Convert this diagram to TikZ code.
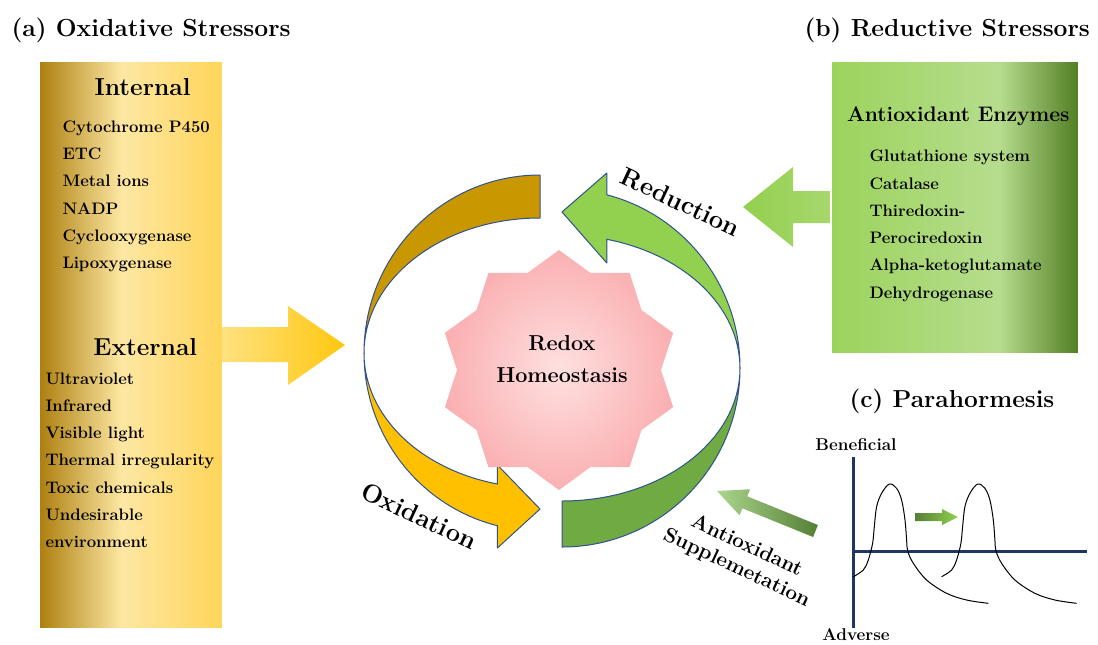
\documentclass[tikz,border=0pt]{standalone}
\usepackage{fontspec}
\usetikzlibrary{calc}

\definecolor{goldA}{RGB}{172,126,14}
\definecolor{goldB}{RGB}{253,231,163}
\definecolor{goldC}{RGB}{255,213,90}
\definecolor{greenA}{RGB}{156,211,92}
\definecolor{greenB}{RGB}{182,221,142}
\definecolor{greenC}{RGB}{82,126,36}
\definecolor{yellowArrowA}{RGB}{255,226,128}
\definecolor{yellowArrowB}{RGB}{255,199,14}
\definecolor{greenArrowA}{RGB}{146,208,80}
\definecolor{greenArrowB}{RGB}{168,215,108}
\definecolor{suppLight}{RGB}{172,212,142}
\definecolor{suppDark}{RGB}{84,128,52}
\definecolor{starIn}{RGB}{255,224,224}
\definecolor{starOut}{RGB}{250,176,178}
\definecolor{axisNavy}{RGB}{32,54,100}

\pgfdeclarehorizontalshading{goldpanel}{100bp}{color(0bp)=(goldA); color(25bp)=(goldA); color(47.5bp)=(goldB); color(75bp)=(goldC); color(100bp)=(goldC)}
\pgfdeclarehorizontalshading{greenpanel}{100bp}{color(0bp)=(greenA); color(25bp)=(greenA); color(59bp)=(greenB); color(75bp)=(greenC); color(100bp)=(greenC)}

\tikzset{every picture/.style={line width=0.75pt}}
\tikzset{
  titletext/.style={anchor=base west, inner sep=0.75pt, font=\fontsize{18.5}{22}\selectfont\bfseries},
  headtext/.style={anchor=base, inner sep=0.75pt, font=\fontsize{18.4}{22}\selectfont\bfseries},
  itemtext/.style={anchor=base west, inner sep=0.75pt, font=\fontsize{12.5}{15}\selectfont\bfseries},
  turnedtext/.style={rotate=-25, inner sep=0.75pt, align=center, font=\fontsize{19.1}{23}\selectfont\bfseries},
  axistext/.style={anchor=base, inner sep=0.75pt, font=\fontsize{12.8}{15}\selectfont\bfseries},
  band/.style={draw={rgb, 255:red, 47; green, 82; blue, 143 }, line join=round}
}

\begin{document}
\begin{tikzpicture}[x=0.75pt,y=0.75pt,yscale=-1,xscale=1]
\useasboundingbox (0,0) rectangle (1098,644);

%Shape: Rectangle [oxidative panel]
\shadedraw [draw=white, shading=goldpanel] (39,61) rectangle (222,628) ;
%Shape: Right Arrow
\shade [left color=yellowArrowA, right color=yellowArrowB] (222,327) -- (288,327) -- (288,306) -- (345,345) -- (288,385) -- (288,362) -- (222,362) -- cycle ;

%Shape: Rectangle [reductive panel]
\shadedraw [draw=white, shading=greenpanel] (831,61) rectangle (1078,353) ;
%Shape: Left Arrow
\shade [left color=greenArrowA, right color=greenArrowB] (830,191) -- (793,191) -- (793,167) -- (743,207) -- (793,247) -- (793,223) -- (830,223) -- cycle ;

%Curved Arrow: oxidation, upper part
\draw [band, fill={rgb, 255:red, 201; green, 151; blue, 0 }] (540,175) arc [start angle=-90, end angle=-180, x radius=176, y radius=178] arc [start angle=180, end angle=270, x radius=176, y radius=135] -- cycle ;
%Curved Arrow: oxidation, lower part with head
\draw [band, fill={rgb, 255:red, 255; green, 192; blue, 0 }] (364,353) arc [start angle=180, end angle=104, x radius=176, y radius=178] -- (497.4,548) -- (540,509) -- (497.4,465) -- (497.4,484) arc [start angle=104, end angle=180, x radius=176, y radius=135] -- cycle ;
%Curved Arrow: reduction, upper part with head
\draw [band, fill={rgb, 255:red, 146; green, 208; blue, 80 }] (740,368) arc [start angle=0, end angle=-75.4, x radius=178, y radius=179] -- (606.8,173) -- (562,212) -- (606.8,263) -- (606.8,239.3) arc [start angle=-75.4, end angle=0, x radius=178, y radius=133] -- cycle ;
%Curved Arrow: reduction, lower part
\draw [band, fill={rgb, 255:red, 112; green, 170; blue, 66 }] (740,368) arc [start angle=0, end angle=90, x radius=178, y radius=179] -- (562,501) arc [start angle=90, end angle=0, x radius=178, y radius=133] -- cycle ;

%Shape: Star [10 points]
\shade [inner color=starIn, outer color=starOut] ($(559,370)+(90:120)$) \foreach \k in {1,...,19} { -- ($(559,370)+({90+18*\k}:{111+9*cos(180*\k)})$) } -- cycle ;

%Shape: supplementation arrow
\shade [left color=suppLight, right color=suppDark] (717,491) -- (750.1,489.3) -- (747.2,496.3) -- (817.9,525) -- (813.1,537) -- (742.4,508.3) -- (739.5,515.3) -- cycle ;

%Parahormesis axes
\coordinate (ytop) at (853,457) ;
\coordinate (ybot) at (853,628) ;
\coordinate (xorg) at (853,551) ;
\coordinate (xend) at (1087,551) ;
\draw [color=axisNavy, line width=2.25] (ytop) -- (ybot) ;
\draw [color=axisNavy, line width=2.25] (xorg) -- (xend) ;
%Curves: dose responses
\foreach \s in {0,88.3} {
  \draw [shift={(889.3+\s,484)}] plot [smooth, tension=0.55] coordinates {(-36,92.7) (-26,86) (-21,76) (-16.7,59.3) (-15,42.7) (-12.7,22.7) (-7.7,9.3) (0,0) (7.3,4.3) (12.3,16) (15.7,36) (17.3,56) (18.3,66.7) (24,79.3) (37.3,96) (57.3,109.3) (77.3,116) (99,119.3)} ;
}
%Shape: shift arrow
\shade [left color=suppDark, right color=greenArrowA] (915,513) -- (942,513) -- (942,509) -- (958,517) -- (942,525) -- (942,521) -- (915,521) -- cycle ;

% Text Node
\node [titletext] (titleA) at (10,36) {(a) Oxidative Stressors};
% Text Node
\node [titletext] (titleB) at (803,36) {(b) Reductive Stressors};
% Text Node
\node [headtext] (titleC) at (952,407.3) {(c) Parahormesis};

% Text Node
\node [headtext] (internal) at (142.5,95) {Internal};
\foreach \t [count=\i from 0] in {Cytochrome P450, ETC, Metal ions, NADP, Cyclooxygenase, Lipoxygenase}
  \node [itemtext] (int\i) at (61,{132.7+27.1*\i}) {\t};
% Text Node
\node [headtext] (external) at (145.3,355) {External};
\foreach \t [count=\i from 0] in {Ultraviolet, Infrared, Visible light, Thermal irregularity, Toxic chemicals, Undesirable, environment}
  \node [itemtext] (ext\i) at (44,{384+27.3*\i}) {\t};

% Text Node
\node [headtext, font=\fontsize{15.8}{19}\selectfont\bfseries] (enzymes) at (958.3,121) {Antioxidant Enzymes};
\foreach \t [count=\i from 0] in {Glutathione system, Catalase, Thiredoxin-, Perociredoxin, Alpha-ketoglutamate, Dehydrogenase}
  \node [itemtext] (enz\i) at (868,{161.7+27.3*\i}) {\t};

% Text Node
\node [align=center, inner sep=0.75pt, font=\fontsize{16.2}{24.2}\selectfont\bfseries] (homeo) at (562,358.7) {Redox\\Homeostasis};
% Text Node
\node [turnedtext] (reduction) at (680.8,202) {Reduction};
% Text Node
\node [turnedtext] (oxidation) at (419,516) {Oxidation};
% Text Node
\node [turnedtext, font=\fontsize{15.5}{18}\selectfont\bfseries] (supplement) at (741.6,557.4) {Antioxidant\\Supplemetation};

% Text Node
\node [axistext] (beneficial) at (856,450.7) {Beneficial};
% Text Node
\node [axistext] (adverse) at (856,640) {Adverse};

\end{tikzpicture}
\end{document}
